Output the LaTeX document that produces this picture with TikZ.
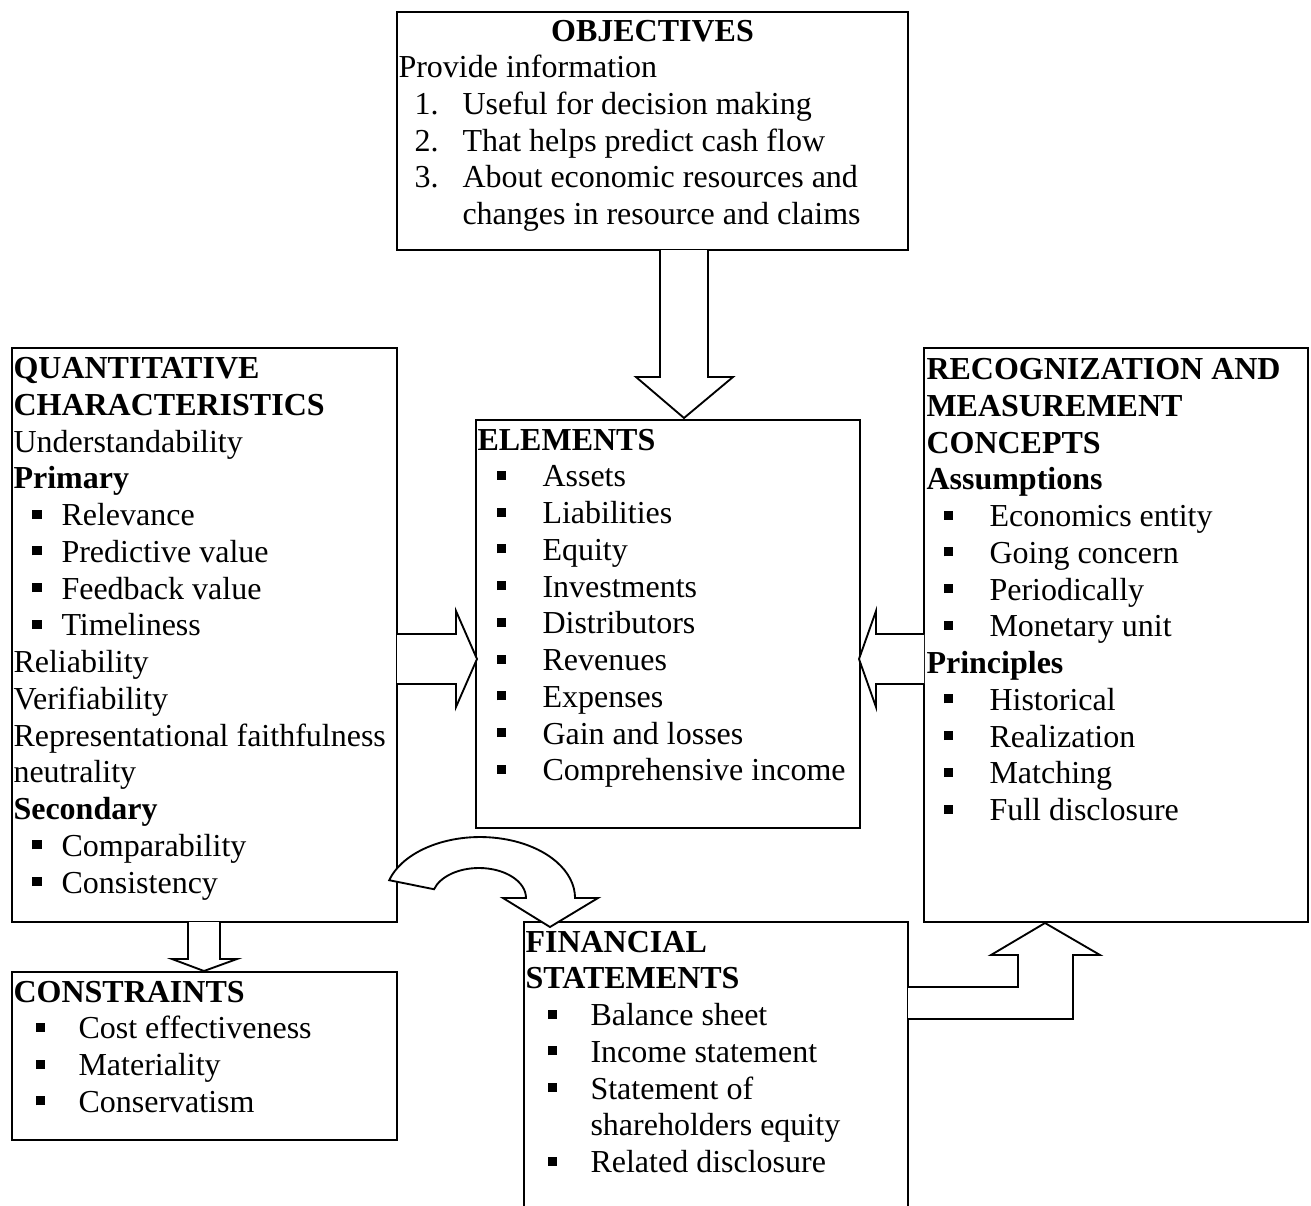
\documentclass[tikz,border=0pt]{standalone}
\usepackage{fontspec}
\setmainfont{Liberation Serif}
\usetikzlibrary{fit}
% square bullet hung to the left of an item
\newcommand\sqb[1]{\llap{\rule[2.6pt]{3.4pt}{3.4pt}\hspace{#1}}}

\begin{document}
\begin{tikzpicture}[x=0.375pt,y=-0.375pt,
  box/.style={draw, line width=0.8pt, inner sep=0pt, fill=white},
  blk/.style={draw, line width=0.7pt, fill=white, line join=miter},
  txt/.style={anchor=base west, inner sep=0pt, font=\fontsize{12}{13.8}\selectfont},
  hd/.style={txt, font=\fontsize{12}{13.8}\selectfont\bfseries}]
\useasboundingbox (0,0) rectangle (1311,1206);

% ---------- boxes ----------
\node[box, fit={(397,12) (908,250)}] (obj) {};
\node[box, fit={(12,348) (397,922)}] (qc) {};
\node[box, fit={(476,420) (860,828)}] (el) {};
\node[box, fit={(924,348) (1308,922)}] (rm) {};
\node[box, fit={(12,972) (397,1140)}] (con) {};
\node[box, fit={(524,922) (908,1216)}] (fs) {};

% ---------- block arrows ----------
% objectives -> elements
\draw[blk] (660,250) -- (660,377) -- (636,377) -- (684,418) -- (733,377) -- (708,377) -- (708,250);
% characteristics -> elements
\draw[blk] (397,634) -- (456,634) -- (456,611) -- (477,659) -- (456,707) -- (456,684) -- (397,684);
% recognition -> elements
\draw[blk] (924,634) -- (876,634) -- (876,611) -- (859,659) -- (876,707) -- (876,684) -- (924,684);
% characteristics -> constraints
\draw[blk] (188,922) -- (188,959) -- (172,959) -- (204,971) -- (237,959) -- (220,959) -- (220,922);
% statements -> recognition (bent)
\draw[blk] (908,987) -- (1018,987) -- (1018,955) -- (991,955) -- (1045,923) -- (1100,955)
  -- (1073,955) -- (1073,1019) -- (908,1019);
% characteristics -> statements (curved)
\draw[blk] (389.2,880.2) arc[start angle=197, end angle=360, x radius=95, y radius=61]
  -- (598,898) -- (550,927) -- (503,898) -- (526,898)
  arc[start angle=360, end angle=197, x radius=47, y radius=30] -- cycle;

% ---------- objectives ----------
\node[hd, anchor=base] (o0) at (652.5,41) {OBJECTIVES};
\node[txt] (o1) at (398,77.5) {Provide information};
\foreach \n/\t [count=\k from 1] in {1./Useful for decision making,
    2./That helps predict cash flow, 3./About economic resources and} {
  \node[txt] (on\k) at (414,{77.5+36.75*\k}) {\n};
  \node[txt] (ot\k) at (462,{77.5+36.75*\k}) {\t};
}
\node[txt] (o5) at (462,224) {changes in resource and claims};

% ---------- characteristics ----------
\node[hd]  (q0)  at (13,378.5) {QUANTITATIVE};
\node[hd]  (q1)  at (13,415.25) {CHARACTERISTICS};
\node[txt] (q2)  at (13,452) {Understandability};
\node[hd]  (q3)  at (13,488.75) {Primary};
\foreach \t [count=\k from 4] in {Relevance, Predictive value, Feedback value, Timeliness}
  \node[txt] (q\k) at (61,{378.5+36.75*\k}) {\sqb{7.5pt}\t};
\node[txt] (q8)  at (13,672.5) {Reliability};
\node[txt] (q9)  at (13,709.25) {Verifiability};
\node[txt] (q10) at (13,746) {Representational faithfulness};
\node[txt] (q11) at (13,782.75) {neutrality};
\node[hd]  (q12) at (13,819.5) {Secondary};
\foreach \t [count=\k from 13] in {Comparability, Consistency}
  \node[txt] (q\k) at (61,{378.5+36.75*\k}) {\sqb{7.5pt}\t};

% ---------- elements ----------
\node[hd] (e0) at (477,450) {ELEMENTS};
\foreach \t [count=\k from 1] in {Assets, Liabilities, Equity, Investments, Distributors,
    Revenues, Expenses, Gain and losses, Comprehensive income}
  \node[txt] (e\k) at (542,{450+36.75*\k}) {\sqb{13.6pt}\t};

% ---------- recognition and measurement ----------
\node[hd] (r0) at (926,379.5) {RECOGNIZATION AND};
\node[hd] (r1) at (926,416.25) {MEASUREMENT};
\node[hd] (r2) at (926,453) {CONCEPTS};
\node[hd] (r3) at (926,489.75) {Assumptions};
\foreach \t [count=\k from 4] in {Economics entity, Going concern, Periodically, Monetary unit}
  \node[txt] (r\k) at (989,{379.5+36.75*\k}) {\sqb{13.6pt}\t};
\node[hd] (r8) at (926,673.5) {Principles};
\foreach \t [count=\k from 9] in {Historical, Realization, Matching, Full disclosure}
  \node[txt] (r\k) at (989,{379.5+36.75*\k}) {\sqb{13.6pt}\t};

% ---------- constraints ----------
\node[hd] (c0) at (13,1002) {CONSTRAINTS};
\foreach \t [count=\k from 1] in {Cost effectiveness, Materiality, Conservatism}
  \node[txt] (c\k) at (78,{1002+36.75*\k}) {\sqb{12.6pt}\t};

% ---------- financial statements ----------
\node[hd] (f0) at (525,952) {FINANCIAL};
\node[hd] (f1) at (525,988.75) {STATEMENTS};
\foreach \t [count=\k from 2] in {Balance sheet, Income statement, Statement of}
  \node[txt] (f\k) at (590,{952+36.75*\k}) {\sqb{12.6pt}\t};
\node[txt] (f5) at (590,1135.75) {shareholders equity};
\node[txt] (f6) at (590,1172.5) {\sqb{12.6pt}Related disclosure};
\end{tikzpicture}
\end{document}
